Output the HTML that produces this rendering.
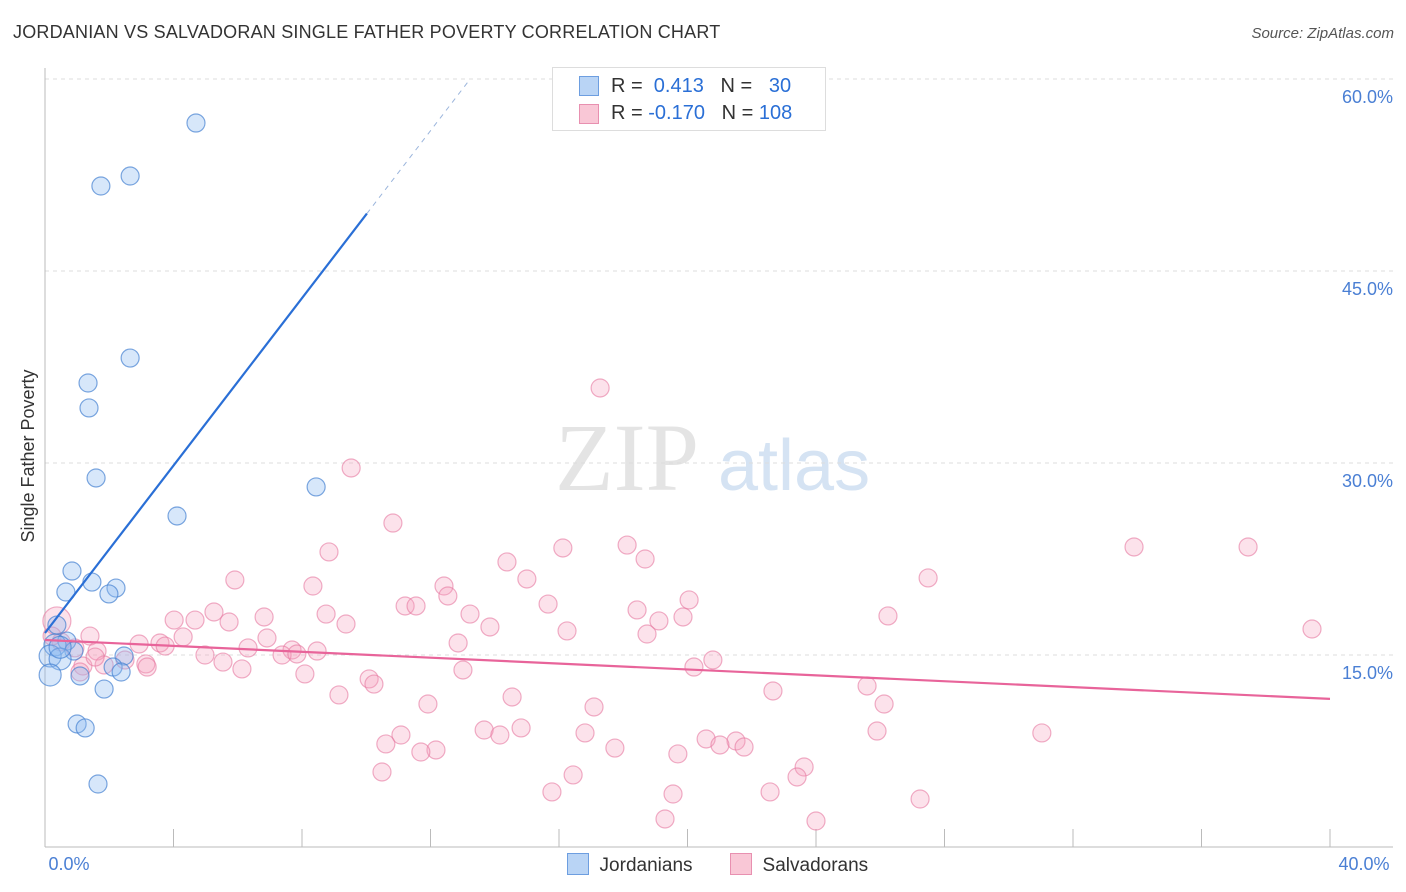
<!DOCTYPE html>
<html><head><meta charset="utf-8"><style>
body{margin:0;background:#fff;font-family:"Liberation Sans",sans-serif;}
#wrap{position:relative;width:1406px;height:892px;overflow:hidden;}
.t{position:absolute;white-space:nowrap;}
</style></head><body>
<div id="wrap">
<div class="t" style="left:13px;top:22px;font-size:18px;color:#333;letter-spacing:0.2px">JORDANIAN VS SALVADORAN SINGLE FATHER POVERTY CORRELATION CHART</div>
<div class="t" style="right:12px;top:25px;font-size:15px;color:#555;font-style:italic">Source: ZipAtlas.com</div>
<svg id="plot" width="1406" height="892" style="position:absolute;left:0;top:0"></svg>
</div>
<script>
const xTicks=[0,4,8,12,16,20,24,28,32,36,40];
const yTicks=[15,30,45,60];
const yTickLabels=["15.0%","30.0%","45.0%","60.0%"];
const jorX=[4.70,1.74,2.65,2.65,1.34,1.37,1.59,8.44,4.11,0.84,1.46,2.21,0.65,1.99,0.37,0.68,0.31,0.90,2.46,0.16,0.47,2.12,2.37,0.16,1.09,1.84,1.00,1.25,1.65,0.47];
const jorY=[56.56,51.64,52.42,38.20,36.25,34.30,28.83,28.13,25.86,21.56,20.70,20.23,19.92,19.77,17.34,16.09,15.78,15.31,14.92,14.92,14.69,14.06,13.67,13.44,13.36,12.34,9.61,9.30,4.92,15.6];
const salX=[17.28,9.53,10.83,8.84,16.12,18.12,18.68,14.38,33.90,37.45,27.49,5.91,15.00,12.42,8.34,12.54,20.05,5.26,6.82,15.66,18.43,8.75,11.21,11.55,13.23,26.24,19.86,19.11,4.02,4.67,9.37,5.73,39.44,16.25,13.85,18.74,4.30,1.40,6.91,3.58,2.93,12.86,3.74,8.47,6.32,7.69,1.62,4.98,7.38,7.84,20.79,5.54,6.13,3.14,2.49,1.84,3.18,1.18,13.01,20.20,8.09,10.09,10.24,25.59,22.66,9.15,14.54,26.12,11.92,17.09,14.82,13.67,14.16,16.81,25.90,31.03,11.08,10.61,20.58,21.51,21.01,21.76,17.74,12.17,11.70,19.70,23.63,10.49,16.44,23.41,15.78,22.57,19.55,27.24,19.30,24.0,0.37,1.56,1.09,0.50,0.22,0.93];
const salY=[35.86,29.61,25.31,23.05,23.36,23.59,22.5,22.27,23.44,23.44,21.02,20.86,20.94,20.39,20.39,19.61,19.30,18.36,17.97,18.98,18.52,18.20,18.83,18.83,18.20,18.05,17.97,17.66,17.73,17.73,17.42,17.58,17.03,16.88,17.19,16.64,16.41,16.48,16.33,15.94,15.86,15.94,15.70,15.31,15.55,15.39,15.31,15.0,15.0,15.08,14.61,14.45,13.91,14.30,14.61,14.22,14.06,14.14,13.83,14.06,13.52,13.13,12.73,12.58,12.19,11.88,11.72,11.17,11.17,10.94,9.30,9.14,8.75,8.91,9.06,8.91,8.75,8.05,8.44,8.28,7.97,7.81,7.73,7.58,7.42,7.27,6.25,5.86,5.63,5.47,4.30,4.30,4.14,3.75,2.19,2.03,17.66,14.84,13.67,16.02,16.48,15.55];
const jorLine=[16.72,3.27]; // intercept, slope
const salLine=[16.17,-0.115];
const X=v=>45+v/40*1285, Y=v=>847-v/15*192;
const svg=document.getElementById('plot');const NS='http://www.w3.org/2000/svg';
function mk(t,a,p){const e=document.createElementNS(NS,t);for(const k in a)e.setAttribute(k,a[k]);(p||svg).appendChild(e);return e;}
// watermark
let wm=mk('text',{x:555,y:490,'font-size':96,fill:'#e4e4e4','font-family':'Liberation Serif,serif'});wm.textContent='ZIP';


let wm2=mk('text',{x:718,y:490,'font-size':72,fill:'#d5e3f3','font-family':'Liberation Sans,sans-serif'});wm2.textContent='atlas';


yTicks.forEach((v,i)=>{
 let g=mk('line',{x1:45,x2:1393,y1:Y(v),y2:Y(v),stroke:'#ddd','stroke-dasharray':'4,4'});
 
 
 let t=mk('text',{x:1393,y:Y(v)+24,'text-anchor':'end','font-size':18,fill:'#4a7fd4','font-family':'Liberation Sans,sans-serif'});t.textContent=yTickLabels[i];
 
 
});
let ax=mk('line',{x1:45,x2:45,y1:68,y2:847,stroke:'#bbb'});


let bx=mk('line',{x1:45,x2:1393,y1:847,y2:847,stroke:'#bbb'});


xTicks.forEach(v=>{let l=mk('line',{x1:X(v),x2:X(v),y1:829,y2:847,stroke:'#bbb'});
 
 });
[[0,'0.0%',69],[40,'40.0%',1364]].forEach(a=>{let t=mk('text',{x:a[2],y:870,'text-anchor':'middle','font-size':18,fill:'#4a7fd4','font-family':'Liberation Sans,sans-serif'});t.textContent=a[1];
 
 });
let yt=mk('text',{x:34,y:456,transform:'rotate(-90 34 456)','text-anchor':'middle','font-size':18,fill:'#333','font-family':'Liberation Sans,sans-serif'});yt.textContent='Single Father Poverty';


salX.forEach((x,i)=>{let c=mk('circle',{cx:X(x),cy:Y(salY[i]),r:i==96?14:9,fill:'rgba(244,160,190,0.3)',stroke:'rgba(230,120,160,0.6)','stroke-width':1.2});
 
 });
jorX.forEach((x,i)=>{let c=mk('circle',{cx:X(x),cy:Y(jorY[i]),r:(x<0.5&&jorY[i]<16)?11:9,fill:'rgba(140,185,240,0.35)',stroke:'rgba(70,130,210,0.7)','stroke-width':1.2});
 
 });
let l1=mk('line',{x1:X(0),y1:Y(jorLine[0]),x2:X(10.02),y2:Y(jorLine[0]+jorLine[1]*10.02),stroke:'#2a6fd6','stroke-width':2.2});


let l2=mk('line',{x1:X(10.02),y1:Y(jorLine[0]+jorLine[1]*10.02),x2:X(13.17),y2:Y(jorLine[0]+jorLine[1]*13.17),stroke:'#9bb5dc','stroke-width':1,'stroke-dasharray':'5,5'});


let l3=mk('line',{x1:X(0),y1:Y(salLine[0]),x2:X(40),y2:Y(salLine[0]+salLine[1]*40),stroke:'#e8649a','stroke-width':2.2});


</script>
<div style="position:absolute;left:552px;top:67px;width:272px;height:62px;border:1px solid #ddd;background:#fff;font-size:20px;font-family:'Liberation Sans',sans-serif;">
 <div style="position:absolute;left:26px;top:8px;width:18px;height:18px;background:#b9d4f5;border:1px solid #6d9ee0"></div>
 <div class="t" style="left:58px;top:7px;color:#333">R = <span style="color:#2a6fd6">&nbsp;0.413</span>&nbsp;&nbsp;&nbsp;N = &nbsp;<span style="color:#2a6fd6">&nbsp;30</span></div>
 <div style="position:absolute;left:26px;top:36px;width:18px;height:18px;background:#f9c7d6;border:1px solid #e890b0"></div>
 <div class="t" style="left:58px;top:34px;color:#333">R = <span style="color:#2a6fd6">-0.170</span>&nbsp;&nbsp;&nbsp;N = <span style="color:#2a6fd6">108</span></div>
</div>
<div style="position:absolute;left:567px;top:853px;font-size:19px;color:#333">
 <span style="display:inline-block;width:20px;height:20px;background:#b9d4f5;border:1px solid #6d9ee0;vertical-align:-4px"></span>&nbsp; Jordanians</div>
<div style="position:absolute;left:730px;top:853px;font-size:19px;color:#333">
 <span style="display:inline-block;width:20px;height:20px;background:#f9c7d6;border:1px solid #e890b0;vertical-align:-4px"></span>&nbsp; Salvadorans</div>
</body></html>
